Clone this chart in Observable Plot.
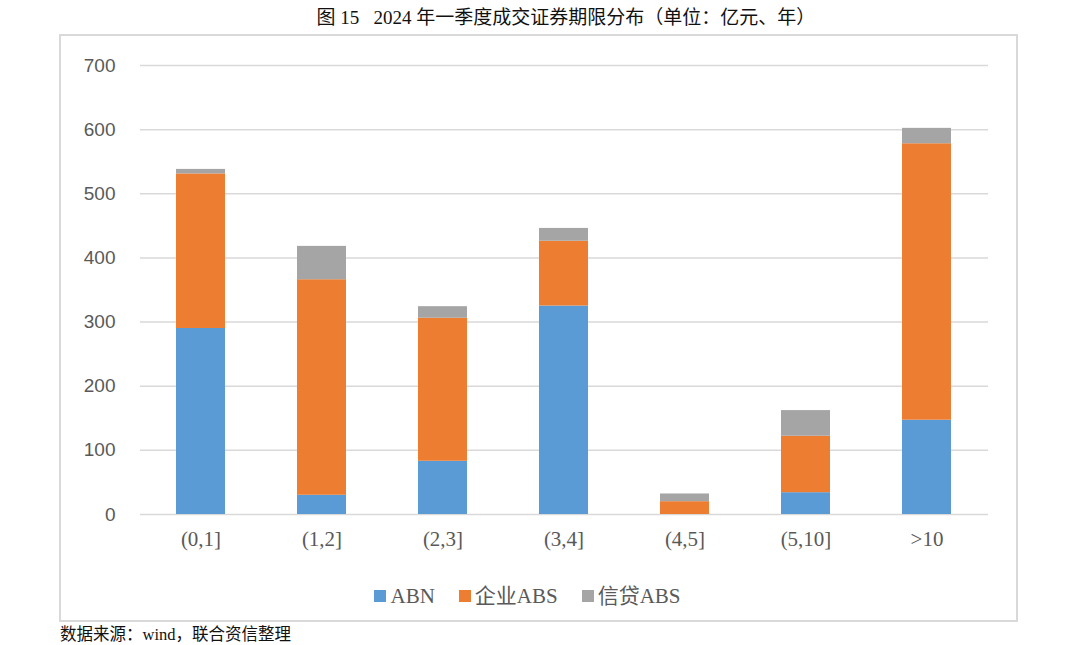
<!DOCTYPE html>
<html>
<head>
<meta charset="utf-8">
<script src="https://cdn.jsdelivr.net/npm/d3@7"></script>
<script src="https://cdn.jsdelivr.net/npm/@observablehq/plot@0.6"></script>
<style>
  html, body { margin: 0; padding: 0; background: #fff; }
  #page { position: relative; width: 1080px; height: 645px; overflow: hidden; }
  #title { position: absolute; left: 26px; width: 1080px; top: 2px; text-align: center;
    font-family: "Liberation Serif", "Noto Sans CJK SC", serif; font-size: 19px; color: #111; }
  #box { position: absolute; left: 59px; top: 34px; width: 955px; height: 584px;
    border: 2px solid #d9d9d9; box-sizing: content-box; }
  #chart { position: absolute; left: 0; top: 0; }
  #legend { position: absolute; left: 0; top: 579px; width: 1055px; text-align: center;
    font-family: "Liberation Serif", "Noto Sans CJK SC", serif; font-size: 21px; color: #595959; }
  #legend span.item { margin: 0 12px; white-space: nowrap; }
  #legend span.sw { display: inline-block; width: 12px; height: 12px; margin-right: 4px; vertical-align: 1px; }
  #source { position: absolute; left: 60px; top: 621px;
    font-family: "Liberation Serif", "Noto Sans CJK SC", serif; font-size: 16.5px; color: #111; }
</style>
</head>
<body>
<div id="page">
  <div id="title">图 15&nbsp;&nbsp; 2024 年一季度成交证券期限分布（单位：亿元、年）</div>
  <div id="box"></div>
  <div id="chart"></div>
  <div id="legend"></div>
  <div id="source">数据来源：wind，联合资信整理</div>
</div>
<script>
const categories = ["(0,1]", "(1,2]", "(2,3]", "(3,4]", "(4,5]", "(5,10]", ">10"];
const seriesNames = ["ABN", "企业ABS", "信贷ABS"];
const abn      = [290, 30, 83, 325, 0, 34, 147];
const qiyeABS  = [241, 336, 223, 101, 20, 88, 431];
const xindaiABS = [7, 52, 18, 20, 12, 40, 24];
const colors = ["#5b9bd5", "#ed7d31", "#a5a5a5"];
const yTicks = [0, 100, 200, 300, 400, 500, 600, 700];

const seriesValues = [abn, qiyeABS, xindaiABS];
const rows = [];
categories.forEach((c, i) => {
  seriesNames.forEach((s, j) => rows.push({cat: c, series: s, value: seriesValues[j][i]}));
});

const plot = Plot.plot({
  width: 1016,
  height: 565,
  marginLeft: 140,
  marginRight: 28,
  marginTop: 65,
  marginBottom: 51,
  x: {domain: categories, paddingInner: 0.595, paddingOuter: 0.2975, label: null},
  y: {domain: [0, 700], label: null},
  color: {domain: seriesNames, range: colors},
  style: {background: "transparent"},
  marks: [
    Plot.gridY(yTicks, {stroke: "#d9d9d9", strokeOpacity: 1, strokeWidth: 1.5}),
    Plot.barY(rows, Plot.stackY({
      x: "cat", y: "value", fill: "series", order: seriesNames
    })),
    Plot.axisY(yTicks, {tickSize: 0, tickPadding: 25, fontSize: 19,
      fontFamily: "'Liberation Sans', sans-serif", fill: "#595959", label: null}),
    Plot.axisX({tickSize: 0, tickPadding: 17, fontSize: 21,
      fontFamily: "'Liberation Serif', serif", fill: "#595959", label: null})
  ]
});
document.getElementById("chart").appendChild(plot);

const legend = document.getElementById("legend");
seriesNames.forEach((s, i) => {
  const item = document.createElement("span");
  item.className = "item";
  const sw = document.createElement("span");
  sw.className = "sw";
  sw.style.background = colors[i];
  item.appendChild(sw);
  item.appendChild(document.createTextNode(s));
  legend.appendChild(item);
});
</script>
</body>
</html>
